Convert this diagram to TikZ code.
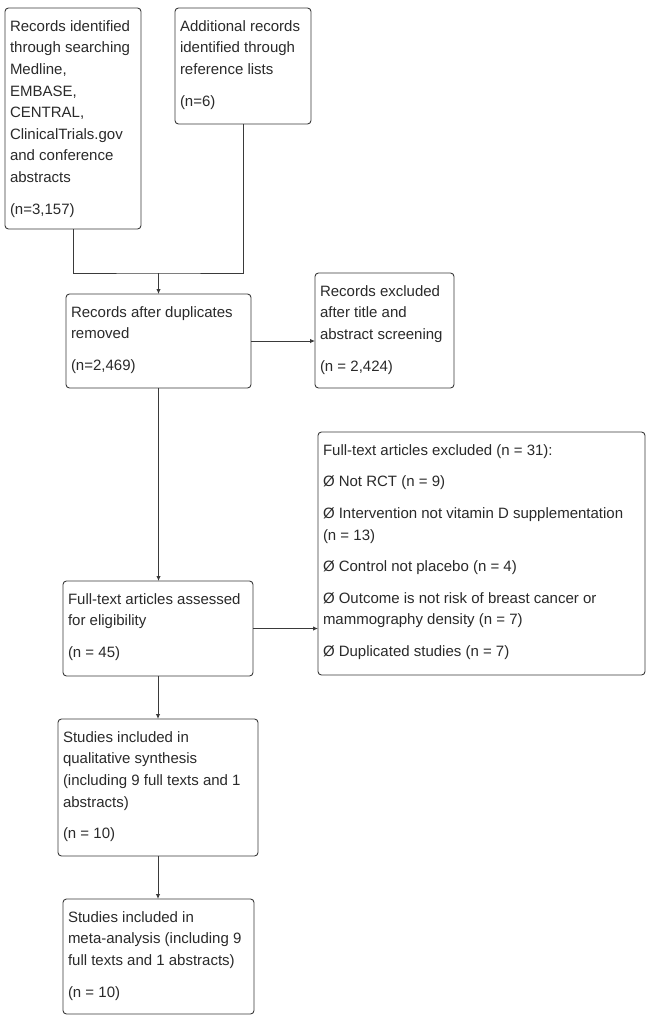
\documentclass[tikz,border=0pt]{standalone}
\usepackage{fontspec}
\setmainfont{Liberation Sans}
\usetikzlibrary{arrows.meta}
\definecolor{linec}{HTML}{3A3A3A}
\definecolor{txtc}{HTML}{2A2A2A}
\newcommand{\bxt}[3]{\parbox[t][#2][t]{#1}{\raggedright\fontsize{15}{21.6}\selectfont\color{txtc}\vspace*{12.5pt}#3}}
\begin{document}
\begin{tikzpicture}[x=1pt,y=-1pt,
  fbox/.style={draw=linec, line width=0.9pt, rounded corners=3.5pt, anchor=north west,
    inner xsep=5pt, inner ysep=0pt, outer sep=0pt},
  conn/.style={draw=linec, line width=0.9pt},
  arr/.style={conn, -{Latex[length=5pt,width=4.5pt]}}]
\useasboundingbox (0,0) rectangle (649,1023);
\fill[white] (0,0) rectangle (649,1023);

\node[fbox] (b1) at (5,8) {\bxt{126pt}{221pt}{Records identified\\through searching\\Medline,\\EMBASE,\\CENTRAL,\\ClinicalTrials.gov\\and conference\\abstracts\\[10pt](n=3,157)}};
\node[fbox] (b2) at (175,8) {\bxt{126pt}{116pt}{Additional records\\identified through\\reference lists\\[10pt](n=6)}};
\node[fbox] (b3) at (66,294) {\bxt{175pt}{94pt}{Records after duplicates\\removed\\[10pt](n=2,469)}};
\node[fbox] (b4) at (315,273) {\bxt{129pt}{115pt}{Records excluded\\after title and\\abstract screening\\[10pt](n = 2,424)}};
\node[fbox] (b5) at (318,432) {\bxt{317pt}{243pt}{Full-text articles excluded (n = 31):\\[10pt]Ø Not RCT (n = 9)\\[10pt]Ø Intervention not vitamin D supplementation\\(n = 13)\\[10pt]Ø Control not placebo (n = 4)\\[10pt]Ø Outcome is not risk of breast cancer or\\mammography density (n = 7)\\[10pt]Ø Duplicated studies (n = 7)}};
\node[fbox] (b6) at (63,581) {\bxt{180pt}{95pt}{Full-text articles assessed\\for eligibility\\[10pt](n = 45)}};
\node[fbox] (b7) at (58,719) {\bxt{190pt}{137pt}{Studies included in\\qualitative synthesis\\(including 9 full texts and 1\\abstracts)\\[10pt](n = 10)}};
\node[fbox] (b8) at (63,899) {\bxt{181pt}{115pt}{Studies included in\\meta-analysis (including 9\\full texts and 1 abstracts)\\[10pt](n = 10)}};

\coordinate (m) at (158.5,273);
\draw[conn] (b1.south) |- (m) -| (b2.south);
\draw[arr] (m) -- (b3.north);
\draw[arr] (b3.east) -- (b3.east -| b4.west);
\draw[arr] (b3.south) -- (b3.south |- b6.north);
\draw[arr] (b6.east) -- (b6.east -| b5.west);
\draw[arr] (b6.south) -- (b6.south |- b7.north);
\draw[arr] (b7.south) -- (b7.south |- b8.north);
\end{tikzpicture}
\end{document}
